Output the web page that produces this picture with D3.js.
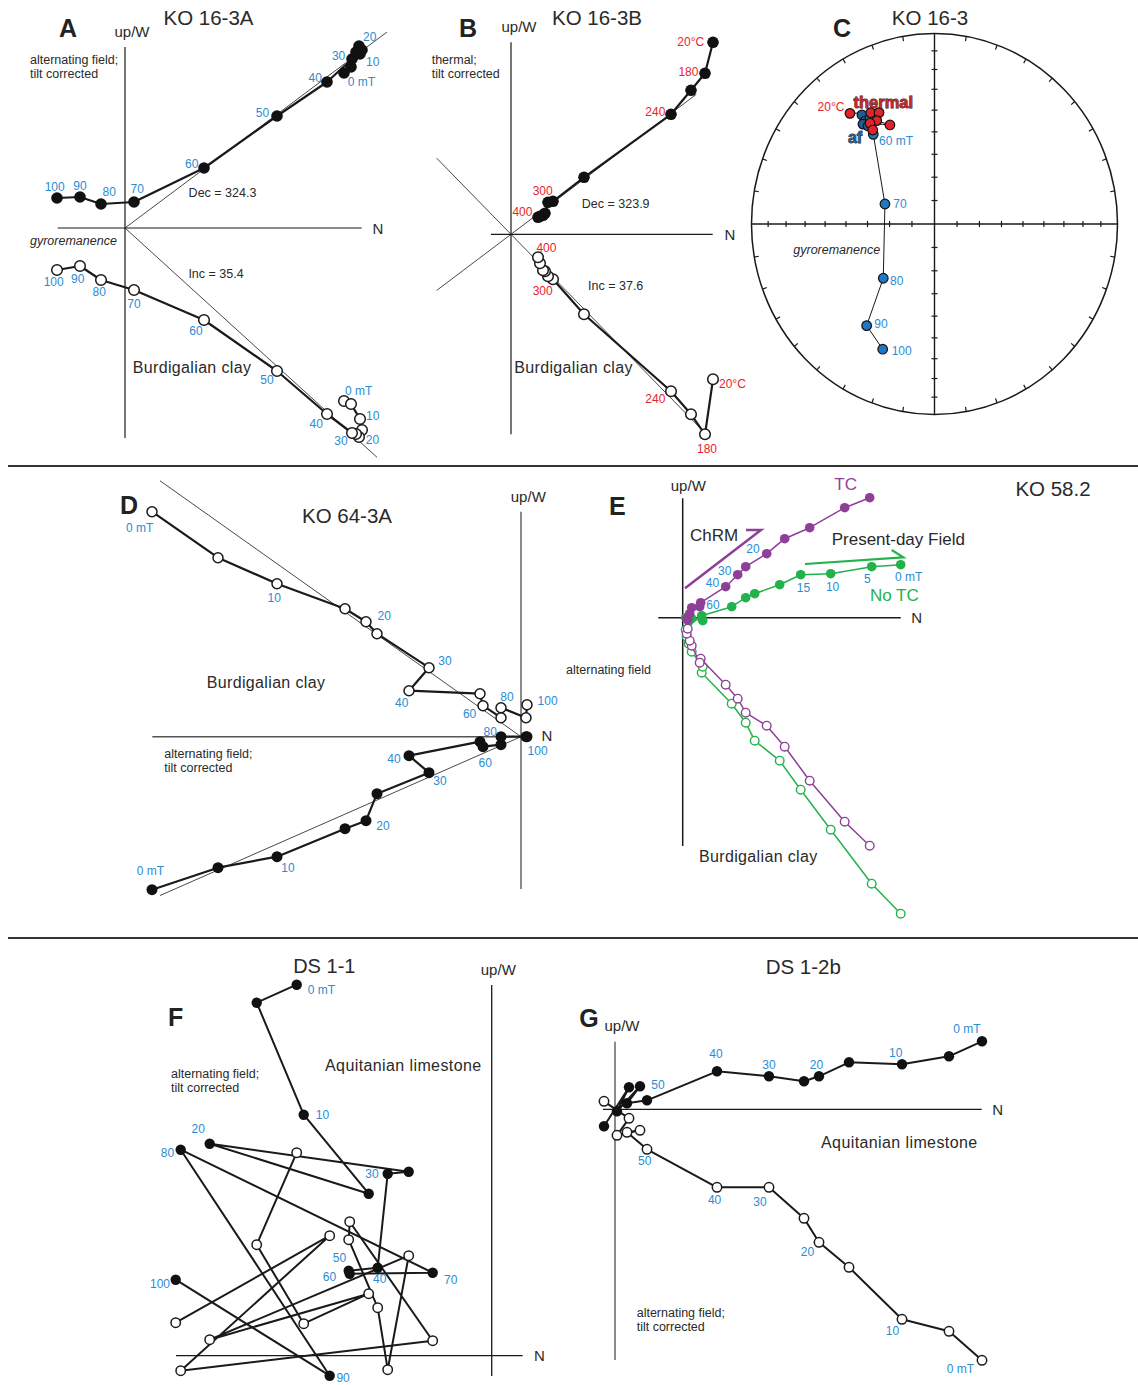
<!DOCTYPE html>
<html><head><meta charset="utf-8">
<script src="https://cdn.jsdelivr.net/npm/d3@7"></script>
<style>body{margin:0;background:#fff}svg{display:block}text{font-family:"Liberation Sans",Arial,sans-serif}</style>
</head><body><svg id="chart" width="1138" height="1385"></svg>
<script>
// ---------------- DATA ----------------
// Panel A: KO 16-3A (alternating field, mT)
const stepsA = [0,5,10,15,20,25,30,40,50,60,70,80,90,100];
const nA  = [21.9,22.6,23.5,23.7,23.4,23.1,22.7,20.2,15.2,7.9,0.9,-2.4,-4.5,-6.8];
const wA  = [15.5,16.1,17.4,17.8,18.2,17.6,16.9,14.6,11.2,6.0,2.6,2.4,3.1,3.0];
const upA = [-17.3,-17.6,-19.1,-20.2,-20.9,-20.6,-20.5,-18.6,-14.3,-9.2,-6.2,-5.2,-3.8,-4.2];
const fitA = [[0.748,0,26.2],[-0.910,0,25.2]]; // [slope, nFrom, nTo]

// Panel B: KO 16-3B (thermal, °C)
const stepsB = [20,180,210,240,270,300,320,340,360,380,400];
const nB  = [20.2,19.4,18.0,16.0,7.3,4.2,3.7,3.4,3.2,2.9,2.7];
const wB  = [19.2,16.1,14.4,12.0,5.7,3.3,3.2,2.1,1.9,1.8,1.7];
const upB = [-14.5,-20.0,-18.0,-15.7,-8.0,-4.5,-4.2,-3.7,-3.6,-2.9,-2.3];
const fitB = [[0.7555,-7.43,18.53],[-1.024,-7.43,19.3]];

// Panel C: KO 16-3 stereonet (declination, inclination)
const afSteps = ["","","","","","60 mT","70","80","90","100"];
const afDec = [325.3,324.9,323.3,327.6,324.8,324.6,291.2,224.5,214.8,203.3];
const afInc = [31.0,34.3,34.9,34.5,37.1,41.8,66.3,57.2,35.3,29.2];
const thSteps = ["20°C","","","","","",""];
const thDec = [321.5,329.2,332.6,329.8,334.9,326.3,325.6];
const thInc = [26.7,32.5,34.5,37.3,42.1,36.6,40.0];

// Panel D: KO 64-3A
const stepsD = [0,5,10,15,20,25,30,40,50,60,70,80,90,100];
const nD  = [-36.9,-30.3,-24.4,-17.6,-15.5,-14.4,-9.2,-11.2,-4.1,-3.8,-2.0,-2.0,0.5,0.6];
const wD  = [-15.3,-13.1,-12.0,-9.2,-8.4,-5.7,-3.6,-1.9,-0.5,-1.0,-0.8,0,0,0];
const upD = [22.5,17.9,15.3,12.8,11.5,10.3,6.9,4.6,4.3,3.1,1.9,2.9,1.9,3.2];
const fitD = [[0.44,-36.1,0],[-0.709,-36.1,0]];

// Panel E: KO 58.2, tilt corrected (TC) and not (No TC)
const stepsE = [0,5,10,15,20,25,30,40,50,60,70,80,90,100];
const nTC  = [18.7,16.2,12.7,10.2,8.4,6.3,5.5,4.3,1.8,1.7,0.9,0.7,0.4,0.5];
const wTC  = [12.0,11.0,9.0,7.9,6.4,5.1,4.3,3.1,1.5,1.1,1.0,0.4,-0.1,-0.2];
const upTC = [-22.8,-20.4,-16.3,-12.9,-10.8,-9.5,-8.1,-6.7,-4.1,-4.5,-2.8,-2.3,-1.6,-1.1];
const nNT  = [21.8,18.9,14.8,11.8,9.7,7.2,6.3,4.9,1.9,2.0,0.9,0.6,0.4,0.3];
const wNT  = [5.3,5.1,4.4,4.3,3.3,2.4,2.0,1.1,0.2,-0.3,-0.1,-0.4,-0.1,0.0];
const upNT = [-29.6,-26.6,-21.2,-17.2,-14.3,-12.3,-10.5,-8.6,-5.5,-4.9,-3.4,-2.6,-1.9,-1.2];
const chrmArrow = [[0.23,2.94],[7.83,8.77],[6.33,8.77]];
const pdfArrow  = [[12.23,5.37],[22.06,6.04],[20.9,6.77]];

// Panel F: DS 1-1
const stepsF = [0,5,10,15,20,25,30,40,50,60,70,80,90,100];
const nF  = [-19.5,-23.5,-18.8,-12.3,-28.2,-8.3,-10.4,-11.4,-14.3,-14.2,-5.9,-31.1,-16.2,-31.6];
const wF  = [37.1,35.3,24.1,16.2,21.2,18.4,18.2,8.8,8.5,8.2,8.3,20.6,-2.0,7.6];
const upF = [20.3,11.1,3.2,6.2,1.6,10.0,-1.4,4.8,11.6,13.4,1.5,-1.5,12.0,3.3];

// Panel G: DS 1-2b
const stepsG = [0,5,10,15,20,25,30,40,50,60,70,80,90,100];
const nG  = [36.7,33.4,28.7,23.4,20.4,18.9,15.4,10.2,3.2,1.2,2.5,0.2,1.4,-1.1];
const wG  = [6.8,5.3,4.5,4.7,3.3,2.8,3.3,3.8,0.9,0.6,2.3,-0.2,2.2,-1.7];
const upG = [-25.1,-22.2,-21.0,-15.8,-13.3,-10.9,-7.8,-7.8,-4.0,-2.3,-2.1,-2.6,-0.9,0.8];

// ---------------- LAYOUT (label offsets: [step index, dx, dy]) ----------------
const labA_W  = [[0,17.4,9],[2,12.7,7.7],[4,10.7,-9.3],[6,-13.4,-3],[7,-11.7,-4.4],[8,-14.6,-3.4],[9,-12.3,-4.3],[10,3.3,-13],[11,8.3,-11.6],[12,0,-10.7],[13,-2.3,-11]];
const labA_Up = [[0,14.7,-9.7],[2,12.7,-2.6],[4,13.4,3.4],[6,-11,8.3],[7,-10.7,10.3],[8,-10,9],[9,-8,10.7],[10,0,14],[11,-1.7,12.4],[12,-2.3,13],[13,-3.3,12]];
const labB_W  = [[0,-22.3,0],[1,-16.6,-1.6],[3,-15.7,-2],[5,-10.3,-10.7],[10,-15.6,-5]];
const labB_Up = [[10,8.4,-9],[5,-10.3,12],[3,-15.7,7.3],[1,2,15],[0,19.4,4.7]];
const labD_W  = [[11,-10.7,-5],[13,10.6,14.5],[9,2.3,16],[7,-15,3.6],[6,11,8],[4,17,5.3],[2,11,11.6],[0,-1.6,-18.3]];
const labD_Up = [[0,-12.3,16],[2,-2.7,14.4],[4,18.3,-6],[6,16,-6.6],[7,-7.3,12],[9,-13.4,8],[11,6,-10.6],[13,20.6,-3.3]];
const labTC_W = [[4,-13.7,-4.3],[6,-13,-3.6],[7,-13.2,-3.4],[9,13.3,-1.7]];
const labNT_W = [[3,2.8,13],[2,1.9,13.6],[1,-4.4,12.6],[0,8,12.7]];
const labF_W  = [[0,24.7,5],[2,18.7,0],[4,-11.4,-14.3],[6,-15.8,0],[7,2,11.7],[8,-9.2,-12.4],[9,-20.2,3.4],[10,18,7.3],[11,-13.3,3.3],[12,13.4,2.3],[13,-15.7,4]];
const labG_W  = [[0,-15,-12],[2,-6.3,-11.3],[4,-2.6,-11.7],[6,0,-11],[7,-1,-17.7],[8,11,-15.7]];
const labG_Up = [[8,-2.3,12],[7,-2.4,12.7],[6,-9,14.4],[4,-11.6,10],[2,-9.6,11.7],[0,-21.7,8.6]];
const labC_af = [[5,22.7,6.7],[6,15,0],[7,13.4,2.7],[8,14.3,-1.7],[9,19,1.4]];
const labC_th = [[0,-19,-6.6]];

const INK = "#1a1a1a", BLUE = "#2b8cd3", RED = "#ec2227", PURPLE = "#8e3f98", GREEN = "#22b24c", TXT = "#2a2a2a";
const LAB = 12, SMALL = 12.5, TITLE = 20.5, LETTER = 25;
const svg = d3.select("#chart");

function txt(x, y, s, o = {}) {
  const t = svg.append("text").attr("x", x).attr("y", y).text(s)
    .attr("font-size", o.size || SMALL).attr("fill", o.color || TXT)
    .attr("text-anchor", o.anchor || "middle").attr("dominant-baseline", "central");
  if (o.weight) t.attr("font-weight", o.weight);
  if (o.style) t.attr("font-style", o.style);
  if (o.ls) t.attr("letter-spacing", o.ls);
  if (o.stroke) t.attr("stroke", o.stroke).attr("stroke-width", o.sw || 1).attr("paint-order", "stroke");
  return t;
}

function zij(L, series) {
  const x = d3.scaleLinear().domain([0, 1]).range([L.ox, L.ox + L.k]);
  const y = d3.scaleLinear().domain([0, 1]).range([L.oy, L.oy - L.k]);
  const g = svg.append("g");
  g.append("line").attr("x1", x(L.h[0])).attr("x2", x(L.h[1])).attr("y1", y(0)).attr("y2", y(0))
    .attr("stroke", L.hColor || INK).attr("stroke-width", L.hW || 1.2);
  g.append("line").attr("x1", x(0)).attr("x2", x(0)).attr("y1", y(L.v[0])).attr("y2", y(L.v[1]))
    .attr("stroke", L.vColor || INK).attr("stroke-width", L.vW || 1.2);
  (L.fits || []).forEach(f => g.append("line")
    .attr("x1", x(f[1])).attr("y1", y(f[0] * f[1])).attr("x2", x(f[2])).attr("y2", y(f[0] * f[2]))
    .attr("stroke", INK).attr("stroke-width", 0.8));
  series.forEach(s => {
    const idx = d3.range(s.n.length);
    const lw = d3.line().x(i => x(s.n[i])).y(i => y(s.w[i]));
    const lu = d3.line().x(i => x(s.n[i])).y(i => y(s.up[i]));
    g.append("path").attr("d", lu(idx)).attr("fill", "none").attr("stroke", s.color).attr("stroke-width", s.lw).attr("stroke-linejoin", "round");
    g.append("path").attr("d", lw(idx)).attr("fill", "none").attr("stroke", s.color).attr("stroke-width", s.lw).attr("stroke-linejoin", "round");
    g.selectAll(null).data(idx).enter().append("circle")
      .attr("cx", i => x(s.n[i])).attr("cy", i => y(s.up[i])).attr("r", s.r)
      .attr("fill", "#fff").attr("stroke", s.color).attr("stroke-width", s.ow);
    g.selectAll(null).data(idx).enter().append("circle")
      .attr("cx", i => x(s.n[i])).attr("cy", i => y(s.w[i])).attr("r", s.r + 0.5)
      .attr("fill", s.fill || s.color).attr("stroke", "none");
    (s.labW || []).forEach(([i, dx, dy]) => txt(x(s.n[i]) + dx, y(s.w[i]) + dy, s.fmt(s.steps[i]), { color: s.labColor, size: LAB }));
    (s.labUp || []).forEach(([i, dx, dy]) => txt(x(s.n[i]) + dx, y(s.up[i]) + dy, s.fmt(s.steps[i]), { color: s.labColor, size: LAB }));
  });
  return { x, y };
}
const fmtMT = v => v === 0 ? "0 mT" : String(v);
const fmtC = v => v === 20 ? "20°C" : String(v);

// separators
[466, 938].forEach(yy => svg.append("line").attr("x1", 8).attr("x2", 1138).attr("y1", yy).attr("y2", yy).attr("stroke", "#333").attr("stroke-width", 2));

// ---------- Panel A ----------
zij({ ox: 125, oy: 228, k: 10, h: [-6.73, 23.67], v: [18.1, -21.0], fits: fitA },
  [{ n: nA, w: wA, up: upA, steps: stepsA, fmt: fmtMT, color: INK, fill: "#111", r: 5.3, lw: 2.2, ow: 1.5, labColor: BLUE, labW: labA_W, labUp: labA_Up }]);
txt(68, 28, "A", { size: LETTER, weight: "bold", color: "#222" });
txt(132, 31, "up/W", { size: 15 });
txt(208.5, 17, "KO 16-3A", { size: TITLE });
txt(30, 60, "alternating field;", { anchor: "start" });
txt(30, 74, "tilt corrected", { anchor: "start" });
txt(30, 241, "gyroremanence", { anchor: "start", style: "italic" });
txt(378, 228, "N", { size: 15 });
txt(222.5, 192.5, "Dec = 324.3");
txt(216, 273.5, "Inc = 35.4");
txt(192, 367.5, "Burdigalian clay", { size: 16, ls: 0.35 });

// ---------- Panel B ----------
zij({ ox: 511, oy: 234.3, k: 10, h: [-2.0, 20.17], v: [19.2, -20.0], fits: fitB },
  [{ n: nB, w: wB, up: upB, steps: stepsB, fmt: fmtC, color: INK, fill: "#111", r: 5.3, lw: 2.2, ow: 1.5, labColor: RED, labW: labB_W, labUp: labB_Up }]);
txt(468, 28, "B", { size: LETTER, weight: "bold", color: "#222" });
txt(519, 26, "up/W", { size: 15 });
txt(597, 17, "KO 16-3B", { size: TITLE });
txt(431.7, 60, "thermal;", { anchor: "start" });
txt(431.7, 74, "tilt corrected", { anchor: "start" });
txt(730, 234, "N", { size: 15 });
txt(615.7, 204, "Dec = 323.9");
txt(615.7, 286, "Inc = 37.6");
txt(573.5, 367.7, "Burdigalian clay", { size: 16, ls: 0.35 });

// ---------- Panel C (equal-area stereonet) ----------
(function () {
  const cx = 934.5, cy = 224, rx = 183, ry = 190.5;
  const xC = d3.scaleLinear().domain([-1, 1]).range([cx - rx, cx + rx]);
  const yC = d3.scaleLinear().domain([-1, 1]).range([cy + ry, cy - ry]);
  const eqA = inc => Math.SQRT2 * Math.sin((90 - Math.abs(inc)) / 2 * Math.PI / 180);
  const P = (dec, inc) => { const r = eqA(inc), a = dec * Math.PI / 180; return [xC(r * Math.sin(a)), yC(r * Math.cos(a))]; };
  const g = svg.append("g");
  g.append("ellipse").attr("cx", xC(0)).attr("cy", yC(0)).attr("rx", xC(1) - xC(0)).attr("ry", yC(0) - yC(1))
    .attr("fill", "none").attr("stroke", INK).attr("stroke-width", 1.5);
  g.append("line").attr("x1", xC(-1)).attr("x2", xC(1)).attr("y1", yC(0)).attr("y2", yC(0)).attr("stroke", INK).attr("stroke-width", 1.4);
  g.append("line").attr("x1", xC(0)).attr("x2", xC(0)).attr("y1", yC(-1)).attr("y2", yC(1)).attr("stroke", INK).attr("stroke-width", 1.4);
  d3.range(10, 90, 10).forEach(inc => {
    const r = eqA(inc);
    [-1, 1].forEach(sg => {
      g.append("line").attr("x1", xC(sg * r)).attr("x2", xC(sg * r)).attr("y1", yC(0) - 3).attr("y2", yC(0) + 3).attr("stroke", INK).attr("stroke-width", 1.2);
      g.append("line").attr("y1", yC(sg * r)).attr("y2", yC(sg * r)).attr("x1", xC(0) - 3).attr("x2", xC(0) + 3).attr("stroke", INK).attr("stroke-width", 1.2);
    });
  });
  d3.range(0, 360, 10).filter(d => d % 90 !== 0).forEach(d => {
    const a = d * Math.PI / 180;
    g.append("line").attr("x1", xC(Math.sin(a))).attr("y1", yC(Math.cos(a)))
      .attr("x2", xC(0.975 * Math.sin(a))).attr("y2", yC(0.975 * Math.cos(a))).attr("stroke", INK).attr("stroke-width", 1.2);
  });
  const line = d3.line();
  const afPts = afDec.map((d, i) => P(d, afInc[i]));
  const thPts = thDec.map((d, i) => P(d, thInc[i]));
  g.append("path").attr("d", line(afPts)).attr("fill", "none").attr("stroke", INK).attr("stroke-width", 1);
  g.append("path").attr("d", line(thPts)).attr("fill", "none").attr("stroke", INK).attr("stroke-width", 1);
  g.selectAll(null).data(afPts).enter().append("circle").attr("cx", d => d[0]).attr("cy", d => d[1]).attr("r", 4.8)
    .attr("fill", (d, i) => i < 5 ? "#1f5f96" : "#1f78c1").attr("stroke", "#111").attr("stroke-width", 1.2);
  g.selectAll(null).data(thPts).enter().append("circle").attr("cx", d => d[0]).attr("cy", d => d[1]).attr("r", 4.8)
    .attr("fill", "#e3232a").attr("stroke", "#111").attr("stroke-width", 1.2);
  labC_af.forEach(([i, dx, dy]) => txt(afPts[i][0] + dx, afPts[i][1] + dy, afSteps[i], { color: BLUE, size: LAB }));
  labC_th.forEach(([i, dx, dy]) => txt(thPts[i][0] + dx, thPts[i][1] + dy, thSteps[i], { color: RED, size: LAB }));
})();
txt(842, 28, "C", { size: LETTER, weight: "bold", color: "#222" });
txt(930, 17, "KO 16-3", { size: TITLE });
txt(883.3, 101.5, "thermal", { size: 16.5, weight: "bold", color: "#c4282c", stroke: "#3a0a0a", sw: 0.8 });
txt(855, 137.3, "af", { size: 16, weight: "bold", color: "#2c5d8c", stroke: "#0d2236", sw: 0.8 });
txt(836.7, 250, "gyroremanence", { style: "italic" });

// ---------- Panel D ----------
zij({ ox: 521, oy: 736.7, k: 10, h: [-36.87, 0.6], v: [22.5, -15.23], fits: fitD, vColor: "#8a8a8a", vW: 2, hColor: "#555", hW: 1.4 },
  [{ n: nD, w: wD, up: upD, steps: stepsD, fmt: fmtMT, color: INK, fill: "#111", r: 5, lw: 2.2, ow: 1.5, labColor: BLUE, labW: labD_W, labUp: labD_Up }]);
txt(129, 505, "D", { size: LETTER, weight: "bold", color: "#222" });
txt(347, 515, "KO 64-3A", { size: TITLE });
txt(528.3, 496, "up/W", { size: 15 });
txt(547, 735.5, "N", { size: 15 });
txt(266, 682.7, "Burdigalian clay", { size: 16, ls: 0.35 });
txt(164.3, 754.3, "alternating field;", { anchor: "start" });
txt(164.3, 767.7, "tilt corrected", { anchor: "start" });

// ---------- Panel E ----------
const E = zij({ ox: 682.7, oy: 617.7, k: 10, h: [-2.44, 21.8], v: [11.94, -22.83], hW: 1.5, vW: 1.5 },
  [{ n: nNT, w: wNT, up: upNT, steps: stepsE, fmt: fmtMT, color: GREEN, r: 4.3, lw: 1.5, ow: 1.4, labColor: BLUE, labW: labNT_W },
   { n: nTC, w: wTC, up: upTC, steps: stepsE, fmt: fmtMT, color: PURPLE, r: 4.3, lw: 1.5, ow: 1.4, labColor: BLUE, labW: labTC_W }]);
const arrowLine = d3.line().x(d => E.x(d[0])).y(d => E.y(d[1]));
svg.append("path").attr("d", arrowLine(chrmArrow)).attr("fill", "none").attr("stroke", PURPLE).attr("stroke-width", 2.6).attr("stroke-linejoin", "miter");
svg.append("path").attr("d", arrowLine(pdfArrow)).attr("fill", "none").attr("stroke", GREEN).attr("stroke-width", 2.2).attr("stroke-linejoin", "miter");
txt(617.3, 506, "E", { size: LETTER, weight: "bold", color: "#222" });
txt(688.3, 485, "up/W", { size: 15 });
txt(845.7, 484, "TC", { size: 17, color: PURPLE });
txt(1053, 488, "KO 58.2", { size: TITLE });
txt(714, 535.7, "ChRM", { size: 17 });
txt(898.3, 539.3, "Present-day Field", { size: 17 });
txt(894.3, 595.7, "No TC", { size: 17, color: GREEN });
txt(916.7, 617.7, "N", { size: 15 });
txt(758.3, 856.7, "Burdigalian clay", { size: 16, ls: 0.35 });
txt(608.5, 670, "alternating field");

// ---------- Panel F ----------
zij({ ox: 491.7, oy: 1355.7, k: 10, h: [-31.57, 3.1], v: [37.07, -2.03], hW: 1.3, vW: 1.3 },
  [{ n: nF, w: wF, up: upF, steps: stepsF, fmt: fmtMT, color: INK, fill: "#111", r: 4.7, lw: 2.0, ow: 1.5, labColor: BLUE, labW: labF_W }]);
txt(175.7, 1016.7, "F", { size: LETTER, weight: "bold", color: "#222" });
txt(324.3, 966, "DS 1-1", { size: 20 });
txt(498.3, 969.3, "up/W", { size: 15 });
txt(403.3, 1065, "Aquitanian limestone", { size: 16, ls: 0.4 });
txt(171, 1074, "alternating field;", { anchor: "start" });
txt(171, 1088, "tilt corrected", { anchor: "start" });
txt(539.3, 1355, "N", { size: 15 });

// ---------- Panel G ----------
zij({ ox: 615, oy: 1109.3, k: 10, h: [-1.2, 36.67], v: [6.76, -25.07], vColor: "#8a8a8a", vW: 2, hW: 1.2 },
  [{ n: nG, w: wG, up: upG, steps: stepsG, fmt: fmtMT, color: INK, fill: "#111", r: 4.7, lw: 2.0, ow: 1.5, labColor: BLUE, labW: labG_W, labUp: labG_Up }]);
txt(589, 1018.3, "G", { size: LETTER, weight: "bold", color: "#222" });
txt(622, 1025, "up/W", { size: 15 });
txt(803.3, 966, "DS 1-2b", { size: TITLE });
txt(899.3, 1142.7, "Aquitanian limestone", { size: 16, ls: 0.4 });
txt(636.7, 1313, "alternating field;", { anchor: "start" });
txt(636.7, 1327, "tilt corrected", { anchor: "start" });
txt(997.7, 1109, "N", { size: 15 });
</script></body></html>
